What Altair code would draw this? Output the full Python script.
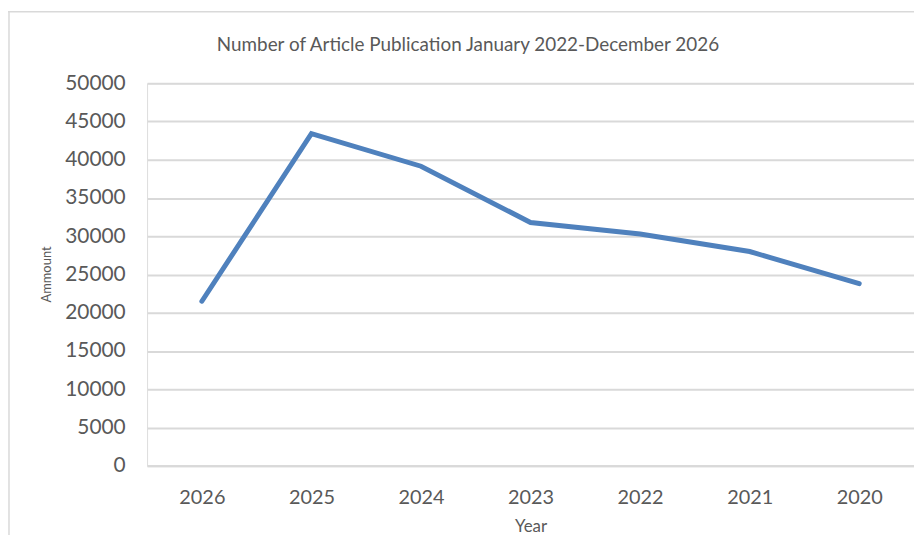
import altair as alt
import pandas as pd

years = ["2026", "2025", "2024", "2023", "2022", "2021", "2020"]
amounts = [21500, 43400, 39150, 31800, 30300, 28000, 23800]
title_text = ["Number of Article Publication January 2022-December 2026"]

df = pd.DataFrame({"Year": years, "Amount": amounts})
tdf = pd.DataFrame({"t": title_text})

FONT = "Lato"
GREY = "#595959"

line = alt.Chart(df).mark_line(
    color="#4F81BD", strokeWidth=5, strokeCap="round", strokeJoin="miter"
).encode(
    x=alt.X("Year:N", sort=years,
            scale=alt.Scale(paddingInner=0, paddingOuter=0.5, padding=0.5, align=0.5),
            axis=alt.Axis(title="Year", labelAngle=0, labelFontSize=20, labelColor=GREY,
                          labelFont=FONT, labelPadding=22, ticks=False, domain=True,
                          domainColor="#d9d9d9", domainWidth=2,
                          titleFont=FONT, titleFontSize=17, titleFontWeight="normal",
                          titleColor=GREY, titleY=61, titleBaseline="middle")),
    y=alt.Y("Amount:Q",
            scale=alt.Scale(domain=[0, 50000], nice=False),
            axis=alt.Axis(title="Ammount", values=list(range(0, 50001, 5000)), format="d",
                          labelFontSize=21, labelColor=GREY, labelFont=FONT,
                          labelPadding=22, ticks=False, domain=False,
                          gridColor="#d9d9d9", gridWidth=2,
                          titleFont=FONT, titleFontSize=13, titleFontWeight="normal",
                          titleColor=GREY, titleX=-101, titleY=192, titleAngle=-90,
                          titleAlign="center", titleBaseline="middle")),
)

title = alt.Chart(tdf).mark_text(
    font=FONT, fontSize=19, color=GREY, align="center", baseline="middle"
).encode(text="t:N", x=alt.value(323), y=alt.value(-38))

frame_top = alt.Chart(tdf).mark_rule(color="#d9d9d9", strokeWidth=1.5).encode(
    x=alt.value(-143), x2=alt.value(800), y=alt.value(-72)
)
frame_left = alt.Chart(tdf).mark_rule(color="#d9d9d9", strokeWidth=1.5).encode(
    x=alt.value(-139), y=alt.value(-72), y2=alt.value(460)
)

chart = alt.layer(frame_top, frame_left, title, line).properties(
    width=772, height=385,
    autosize=alt.AutoSizeParams(type="none"),
    padding={"left": 140, "top": 74, "right": 0, "bottom": 68},
).configure_view(stroke=None).configure(background="white")

chart.save("out.html", embed_options={"renderer": "svg", "actions": False})
